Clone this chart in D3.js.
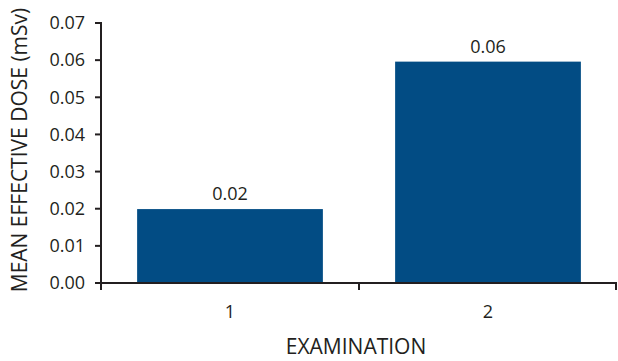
<!DOCTYPE html>
<html>
<head>
<meta charset="utf-8">
<script src="https://cdn.jsdelivr.net/npm/d3@7"></script>
<style>
  body { margin: 0; background: #fff; }
  text { font-family: "Open Sans", "Noto Sans", sans-serif; fill: #231f20; }
</style>
</head>
<body>
<div id="chart"></div>
<script>
// Dữ liệu biểu đồ
const examinations = ["1", "2"];
const doses = [0.0199, 0.0596];
const doseLabels = ["0.02", "0.06"];
const yTicks = [0, 0.01, 0.02, 0.03, 0.04, 0.05, 0.06, 0.07];

let fullWidth = 618, fullHeight = 361;
let margin = { top: 23, right: 1, bottom: 78, left: 101 };
let width = fullWidth - margin.left - margin.right;
let height = fullHeight - margin.top - margin.bottom;

let svg = d3.select("#chart")
    .append("svg")
    .attr("width", fullWidth)
    .attr("height", fullHeight);

let chartGroup = svg.append("g")
    .attr("transform", `translate(${margin.left},${margin.top})`);

// Thang đo
let x = d3.scaleBand()
    .domain(examinations)
    .range([0, width])
    .paddingInner(0.28)
    .paddingOuter(0.14);

let y = d3.scaleLinear()
    .domain([0, 0.07])
    .range([height, 0]);

// Cột
chartGroup.selectAll(".bar")
    .data(examinations)
    .enter()
    .append("rect")
    .attr("class", "bar")
    .attr("x", d => x(d))
    .attr("y", (d, i) => y(doses[i]))
    .attr("width", x.bandwidth())
    .attr("height", (d, i) => height - y(doses[i]))
    .attr("fill", "#024c84");

// Nhãn giá trị
chartGroup.selectAll(".label")
    .data(examinations)
    .enter()
    .append("text")
    .attr("class", "label")
    .attr("x", d => x(d) + x.bandwidth() / 2)
    .attr("y", (d, i) => y(doses[i]) - 9)
    .attr("text-anchor", "middle")
    .style("font-size", "18px")
    .text((d, i) => doseLabels[i]);

// Trục Y
let yAxis = chartGroup.append("g")
    .call(d3.axisLeft(y).tickValues(yTicks).tickFormat(d3.format(".2f"))
        .tickSize(6).tickPadding(10).offset(0));
yAxis.selectAll("text").style("font-size", "18px").attr("dy", "0.35em");

// Trục X: vạch chia ở ranh giới các nhóm
let xAxis = chartGroup.append("g")
    .attr("transform", `translate(0,${height})`);
xAxis.append("line")
    .attr("x1", -6).attr("x2", width)
    .attr("y1", 0).attr("y2", 0);
let edges = [0, (x("1") + x.bandwidth() + x("2")) / 2, width - 1];
xAxis.selectAll(".edge")
    .data(edges)
    .enter()
    .append("line")
    .attr("class", "edge")
    .attr("x1", d => d).attr("x2", d => d)
    .attr("y1", 0).attr("y2", 7);
xAxis.selectAll(".xlab")
    .data(examinations)
    .enter()
    .append("text")
    .attr("class", "xlab")
    .attr("x", d => x(d) + x.bandwidth() / 2)
    .attr("y", 35)
    .attr("text-anchor", "middle")
    .style("font-size", "18px")
    .text(d => d);

chartGroup.selectAll(".domain, line").style("stroke", "#231f20").style("stroke-width", 2);
yAxis.select(".domain").attr("d", `M-6,0H0V${height}`);

// Tiêu đề trục
svg.append("text")
    .attr("x", margin.left + width / 2 - 3)
    .attr("y", 354)
    .attr("text-anchor", "middle")
    .style("font-size", "21px")
    .text("EXAMINATION");

svg.append("text")
    .attr("transform", `translate(27,150) rotate(-90)`)
    .attr("text-anchor", "middle")
    .style("font-size", "21px")
    .text("MEAN EFFECTIVE DOSE (mSv)");
</script>
</body>
</html>
